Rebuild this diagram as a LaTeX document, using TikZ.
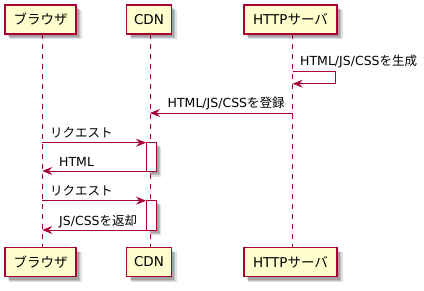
\documentclass[tikz,border=0pt]{standalone}
\usepackage{fontspec}
\setmainfont{DejaVu Sans}
\newfontfamily\jp{Noto Sans CJK JP}
\usetikzlibrary{arrows.meta,shadows}
\definecolor{pumlred}{HTML}{A80036}
\definecolor{pumlfill}{HTML}{FEFECE}
\tikzset{
  softshadow/.style={
    drop shadow={shadow xshift=5pt, shadow yshift=-5pt, shadow scale=1.02, opacity=0.12, fill=black},
    drop shadow={shadow xshift=4pt, shadow yshift=-4pt, opacity=0.15, fill=black},
    drop shadow={shadow xshift=3pt, shadow yshift=-3pt, opacity=0.15, fill=black}},
  part/.style={draw=pumlred, line width=1.4pt, fill=pumlfill, minimum height=29pt, inner sep=0pt,
    font=\fontsize{13.5}{15}\selectfont, softshadow},
  lifeline/.style={draw=pumlred, line width=0.8pt, dash pattern=on 5pt off 5pt},
  actbox/.style={draw=pumlred, line width=0.9pt, fill=white, softshadow},
  msg/.style={draw=pumlred, line width=0.9pt, -{Stealth[length=10pt, width=8pt, inset=3.5pt]}},
  lbl/.style={anchor=west, inner sep=0pt, font=\fontsize{12.5}{14}\selectfont},
}
\begin{document}
\begin{tikzpicture}[x=1pt, y=-1pt]
\useasboundingbox (0,0) rectangle (424,290);
% participants top
\node[part, minimum width=71pt] (bT) at (40.5,19.5) {\jp ブラウザ};
\node[part, minimum width=44.5pt] (cT) at (149,19.5) {CDN};
\node[part, minimum width=93pt] (hT) at (290.5,19.5) {HTTP{\jp サーバ}};
% participants bottom
\node[part, minimum width=71pt] (bB) at (40.5,262) {\jp ブラウザ};
\node[part, minimum width=44.5pt] (cB) at (149,262) {CDN};
\node[part, minimum width=93pt] (hB) at (290.5,262) {HTTP{\jp サーバ}};
% lifelines
\coordinate (b0) at (42.3,34); \coordinate (b1) at (42.3,247);
\coordinate (c0) at (150,34); \coordinate (c1) at (150,247);
\coordinate (h0) at (292.7,34); \coordinate (h1) at (292.7,247);
\draw[lifeline] (b0) -- (b1);
\draw[lifeline] (c0) -- (c1);
\draw[lifeline] (h0) -- (h1);
% activations
\node[actbox, minimum width=10pt, minimum height=29pt, inner sep=0pt] (act1) at (151,156.8) {};
\node[actbox, minimum width=10pt, minimum height=30pt, inner sep=0pt] (act2) at (151,215) {};
% self message
\coordinate (s0) at (292.7,71.7);
\coordinate (s1) at (335.3,71.7);
\coordinate (s2) at (335.3,83.7);
\coordinate (s3) at (292.7,83.7);
\draw[msg] (s0) -- (s1) -- (s2) -- (s3);
\node[lbl] (l1) at (300,61.5) {HTML/JS/CSS{\jp を生成}};
% register
\coordinate (r0) at (292.7,113); \coordinate (r1) at (150,113);
\draw[msg] (r0) -- (r1);
\node[lbl] (l2) at (167.5,103) {HTML/JS/CSS{\jp を登録}};
% request 1
\coordinate (q0) at (42.3,142.7); \coordinate (q1) at (146,142.7);
\draw[msg] (q0) -- (q1);
\node[lbl] (l3) at (50,133) {\jp リクエスト};
% HTML
\coordinate (p0) at (146,171); \coordinate (p1) at (42.3,171);
\draw[msg] (p0) -- (p1);
\node[lbl] (l4) at (59,162) {HTML};
% request 2
\coordinate (q2) at (42.3,200.7); \coordinate (q3) at (146,200.7);
\draw[msg] (q2) -- (q3);
\node[lbl] (l5) at (50,191) {\jp リクエスト};
% JS/CSS
\coordinate (p2) at (146,230); \coordinate (p3) at (42.3,230);
\draw[msg] (p2) -- (p3);
\node[lbl] (l6) at (59,221) {JS/CSS{\jp を返却}};
\end{tikzpicture}
\end{document}
